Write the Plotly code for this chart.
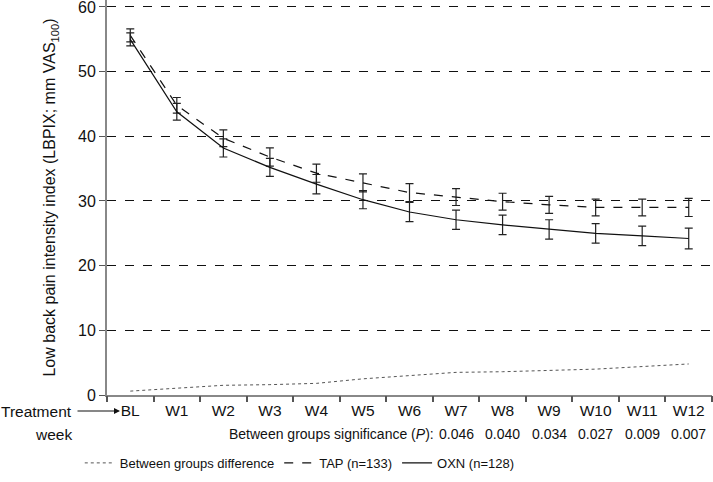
import plotly.graph_objects as go

weeks = ["BL", "W1", "W2", "W3", "W4", "W5", "W6", "W7", "W8", "W9", "W10", "W11", "W12"]
tap_mean = [55.6, 44.8, 39.7, 36.8, 34.3, 32.8, 31.3, 30.6, 29.9, 29.4, 29.0, 29.0, 29.0]
tap_err = [1.0, 1.2, 1.3, 1.4, 1.4, 1.4, 1.4, 1.3, 1.3, 1.3, 1.3, 1.3, 1.4]
oxn_mean = [55.0, 43.8, 38.2, 35.2, 32.6, 30.2, 28.3, 27.1, 26.3, 25.6, 25.0, 24.6, 24.2]
oxn_err = [1.0, 1.3, 1.4, 1.4, 1.5, 1.4, 1.5, 1.5, 1.5, 1.5, 1.5, 1.5, 1.6]
diff = [0.6, 1.0, 1.5, 1.6, 1.8, 2.5, 3.0, 3.5, 3.6, 3.8, 4.0, 4.4, 4.8]
p_weeks = ["W7", "W8", "W9", "W10", "W11", "W12"]
p_values = ["0.046", "0.040", "0.034", "0.027", "0.009", "0.007"]

xi = list(range(len(weeks)))
FONT = "Liberation Sans, Arial, sans-serif"

fig = go.Figure()
fig.add_trace(go.Scatter(
    x=xi, y=diff, mode="lines", name="Between groups difference",
    line=dict(color="#555555", width=1, dash="dot")))
fig.add_trace(go.Scatter(
    x=xi, y=tap_mean, mode="lines", name="TAP (n=133)",
    line=dict(color="#111111", width=1.2, dash="dash"),
    error_y=dict(type="data", array=tap_err, color="#222222", thickness=1.2, width=4)))
fig.add_trace(go.Scatter(
    x=xi, y=oxn_mean, mode="lines", name="OXN (n=128)",
    line=dict(color="#111111", width=1.2),
    error_y=dict(type="data", array=oxn_err, color="#222222", thickness=1.2, width=4)))
fig.add_trace(go.Scatter(x=[-0.5, 12.5], y=[0, 0], mode="markers",
                         marker=dict(opacity=0), xaxis="x2", showlegend=False, hoverinfo="skip"))

fig.update_layout(
    width=713, height=482,
    margin=dict(l=107, r=1, t=0, b=87),
    plot_bgcolor="white", paper_bgcolor="white",
    font=dict(family=FONT, color="#111111", size=15),
    xaxis=dict(range=[-0.5, 12.5], tickvals=xi, ticktext=weeks, ticks="",
               showgrid=False, zeroline=False, showline=True, linecolor="#888888",
               linewidth=2, tickfont=dict(size=15.5)),
    xaxis2=dict(range=[-0.5, 12.5], overlaying="x", side="bottom",
                tickvals=[i - 0.5 for i in range(len(weeks) + 1)], showticklabels=False,
                ticks="outside", ticklen=6, tickwidth=1.5, tickcolor="#555555",
                showgrid=False, zeroline=False, showline=False),
    yaxis=dict(range=[0, 61.08], tickvals=[0, 10, 20, 30, 40, 50, 60],
               ticklabeloverflow="allow",
               showgrid=True, gridcolor="#111111", gridwidth=1, griddash="dash",
               zeroline=False, showline=True, linecolor="#888888", linewidth=2,
               ticks="outside", ticklen=6, tickcolor="#555555", tickfont=dict(size=16),
               title=dict(text="Low back pain intensity index (LBPIX; mm VAS<sub>100</sub>)",
                          font=dict(size=16), standoff=18)),
    legend=dict(orientation="h", x=-0.045, xanchor="left", y=-0.172, yanchor="middle",
                font=dict(size=13), bgcolor="rgba(0,0,0,0)", itemwidth=30,
                tracegroupgap=0),
    showlegend=True,
)

def py(px):
    return (395 - px) / 395.0

fig.add_annotation(xref="paper", yref="paper", x=(74 - 107) / 605, y=py(411),
                   text="Treatment", showarrow=False, xanchor="right", yanchor="middle",
                   font=dict(size=15.5))
fig.add_annotation(xref="paper", yref="paper", x=(74 - 107) / 605, y=py(434),
                   text="week", showarrow=False, xanchor="right", yanchor="middle",
                   font=dict(size=15.5))
fig.add_annotation(xref="paper", yref="paper", x=(120 - 107) / 605, y=py(411),
                   ax=-44, ay=0, text="", showarrow=True, arrowhead=2, arrowsize=1,
                   arrowwidth=1.2, arrowcolor="#111111")
fig.add_annotation(xref="paper", yref="paper", x=(436 - 107) / 605, y=py(434),
                   text="Between groups significance (<i>P</i>):", showarrow=False,
                   xanchor="right", yanchor="middle", font=dict(size=14))
for w, p in zip(p_weeks, p_values):
    fig.add_annotation(xref="x", yref="paper", x=weeks.index(w), y=py(434),
                       text=p, showarrow=False, xanchor="center", yanchor="middle",
                       font=dict(size=14))

fig.write_html("out.html", config={"displayModeBar": False},
               post_script="document.body.style.margin='0';")
